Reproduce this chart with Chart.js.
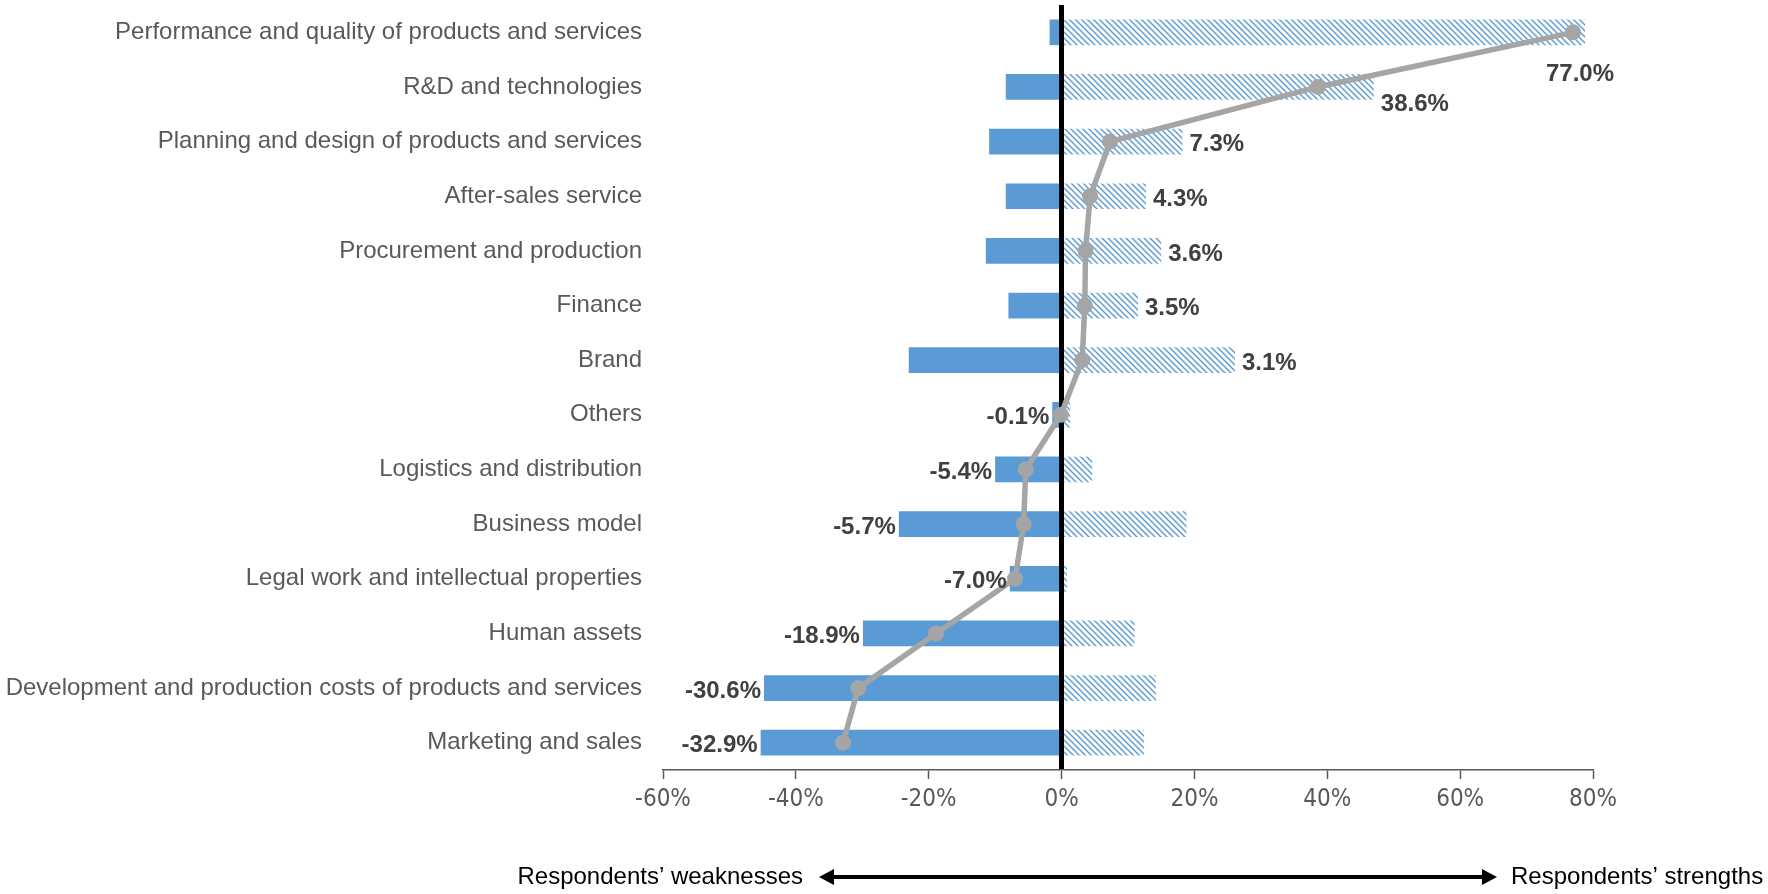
<!DOCTYPE html>
<html>
<head>
<meta charset="utf-8">
<script src="https://cdn.jsdelivr.net/npm/chart.js@4.4.1/dist/chart.umd.min.js"></script>
<style>
  html, body { margin: 0; padding: 0; background: #fff; }
  #wrap { width: 1768px; height: 894px; position: relative; }
</style>
</head>
<body>
<div id="wrap"><canvas id="chart"></canvas></div>
<script>
/* ================================================
   DATA
================================================ */

const categories = [
  'Performance and quality of products and services',
  'R&D and technologies',
  'Planning and design of products and services',
  'After-sales service',
  'Procurement and production',
  'Finance',
  'Brand',
  'Others',
  'Logistics and distribution',
  'Business model',
  'Legal work and intellectual properties',
  'Human assets',
  'Development and production costs of products and services',
  'Marketing and sales',
];

const strengths  = [78.8, 47.0, 18.2, 12.7, 15.0, 11.5, 26.1, 1.3, 4.6, 18.8, 0.8, 11.0, 14.2, 12.4];
const weaknesses = [-1.8, -8.4, -10.9, -8.4, -11.4, -8.0, -23.0, -1.4, -10.0, -24.5, -7.8, -29.9, -44.8, -45.3];
const netScores  = [77.0, 38.6, 7.3, 4.3, 3.6, 3.5, 3.1, -0.1, -5.4, -5.7, -7.0, -18.9, -30.6, -32.9];

const xMin  = -60;
const xMax  = 80;
const xStep = 20;

const weakLabel   = 'Respondents\u2019 weaknesses';
const strongLabel = 'Respondents\u2019 strengths';

/* ================================================
   STYLE
================================================ */

const BLUE  = '#5B9BD5';
const GREY  = '#A5A5A5';
const TEXT  = '#595959';
const LABEL = '#404040';
const SANS  = '"Liberation Sans", Arial, sans-serif';
const NARROW = '"Liberation Sans Narrow", "DejaVu Sans Condensed", "Liberation Sans", sans-serif';

/* hatched fill for the strengths bars */
function hatchPattern() {
  const size = 6;
  const c = document.createElement('canvas');
  c.width = size; c.height = size;
  const g = c.getContext('2d');
  g.fillStyle = '#fff';
  g.fillRect(0, 0, size, size);
  g.strokeStyle = BLUE;
  g.lineWidth = 1.4;
  g.beginPath();
  g.moveTo(-1, -1); g.lineTo(size + 1, size + 1);
  g.moveTo(-1, size - 1); g.lineTo(1, size + 1);
  g.moveTo(size - 1, -1); g.lineTo(size + 1, 1);
  g.stroke();
  return g.createPattern(c, 'repeat');
}

/* ================================================
   PLUGINS
================================================ */

/* hand-placed label nudges, as in the source chart */
const labelNudgeY = { 1: 14 };

/* net score labels at the outer end of the bars */
const netLabels = {
  id: 'netLabels',
  afterDatasetsDraw(chart) {
    const ctx  = chart.ctx;
    const area = chart.chartArea;
    const pos  = chart.getDatasetMeta(1).data;
    const neg  = chart.getDatasetMeta(2).data;

    ctx.save();
    ctx.font = 'bold 24px ' + SANS;
    ctx.fillStyle = LABEL;
    ctx.textBaseline = 'middle';

    netScores.forEach((v, i) => {
      const txt = v.toFixed(1) + '%';
      const w   = ctx.measureText(txt).width;
      const dy  = 3 + (labelNudgeY[i] || 0);
      if (v >= 0) {
        const bar = pos[i];
        const x = bar.x + 7;
        if (x + w > area.right) {
          /* no room on the right: put it under the bar end */
          ctx.textAlign = 'center';
          ctx.fillText(txt, bar.x - 5, bar.y + 42);
          return;
        }
        ctx.textAlign = 'left';
        ctx.fillText(txt, x, bar.y + dy);
      } else {
        const bar = neg[i];
        ctx.textAlign = 'right';
        ctx.fillText(txt, bar.x - 3, bar.y + dy);
      }
    });
    ctx.restore();
  },
};

/* weaknesses <-> strengths arrow under the axis */
const directionArrow = {
  id: 'directionArrow',
  afterDraw(chart) {
    const ctx = chart.ctx;
    const y   = 877;
    const x1  = 819;
    const x2  = 1497;
    const head = 15;
    const half = 8;

    ctx.save();
    ctx.strokeStyle = '#000';
    ctx.fillStyle   = '#000';
    ctx.lineWidth   = 4;
    ctx.beginPath();
    ctx.moveTo(x1 + head, y); ctx.lineTo(x2 - head, y);
    ctx.stroke();

    ctx.beginPath();
    ctx.moveTo(x1, y); ctx.lineTo(x1 + head, y - half); ctx.lineTo(x1 + head, y + half);
    ctx.closePath(); ctx.fill();
    ctx.beginPath();
    ctx.moveTo(x2, y); ctx.lineTo(x2 - head, y - half); ctx.lineTo(x2 - head, y + half);
    ctx.closePath(); ctx.fill();

    ctx.font = '24px ' + SANS;
    ctx.textBaseline = 'middle';
    ctx.textAlign = 'right';
    ctx.fillText(weakLabel, x1 - 16, y);
    ctx.textAlign = 'left';
    ctx.fillText(strongLabel, x2 + 14, y);
    ctx.restore();
  },
};

/* ================================================
   CHART
================================================ */

new Chart(document.getElementById('chart').getContext('2d'), {
  type: 'bar',
  data: {
    labels: categories,
    datasets: [
      {
        type:             'line',
        label:            'Net',
        data:             netScores,
        indexAxis:        'y',
        borderColor:      GREY,
        backgroundColor:  GREY,
        borderWidth:      5.5,
        pointRadius:      8,
        pointBackgroundColor: GREY,
        pointBorderColor: GREY,
        pointBorderWidth: 0,
        tension:          0,
        fill:             false,
        order:            0,
      },
      {
        label:           'Strengths',
        data:            strengths,
        backgroundColor: hatchPattern(),
        borderWidth:     0,
        grouped:         false,
        barPercentage:   0.47,
        categoryPercentage: 1,
        order:           1,
      },
      {
        label:           'Weaknesses',
        data:            weaknesses,
        backgroundColor: BLUE,
        borderWidth:     0,
        grouped:         false,
        barPercentage:   0.47,
        categoryPercentage: 1,
        order:           1,
      },
    ],
  },
  options: {
    indexAxis:           'y',
    responsive:          true,
    maintainAspectRatio: false,
    animation:           false,
    layout: {
      autoPadding: false,
      padding: { top: 5, right: 175, bottom: 0, left: 0 },
    },
    plugins: {
      legend:  { display: false },
      tooltip: { enabled: false },
    },
    scales: {
      x: {
        min: xMin,
        max: xMax,
        afterFit: s => { s.height = 124; },
        ticks: {
          stepSize: xStep,
          color:    TEXT,
          font:     { family: NARROW, size: 24 },
          padding:  6,
          callback: v => v + '%',
        },
        grid: {
          color:      c => (c.tick && c.tick.value === 0) ? '#000' : 'rgba(0,0,0,0)',
          lineWidth:  c => (c.tick && c.tick.value === 0) ? 5 : 1,
          tickColor:  TEXT,
          tickWidth:  1.5,
          tickLength: 9,
        },
        border: { display: true, color: TEXT, width: 1.5 },
      },
      y: {
        afterFit: s => { s.width = 663; s.paddingTop = 0; s.paddingBottom = 0; },
        ticks: {
          color:   TEXT,
          font:    { family: SANS, size: 24 },
          padding: 13,
          autoSkip: false,
        },
        grid:   { display: false },
        border: { display: false },
      },
    },
  },
  plugins: [netLabels, directionArrow],
});
</script>
</body>
</html>
